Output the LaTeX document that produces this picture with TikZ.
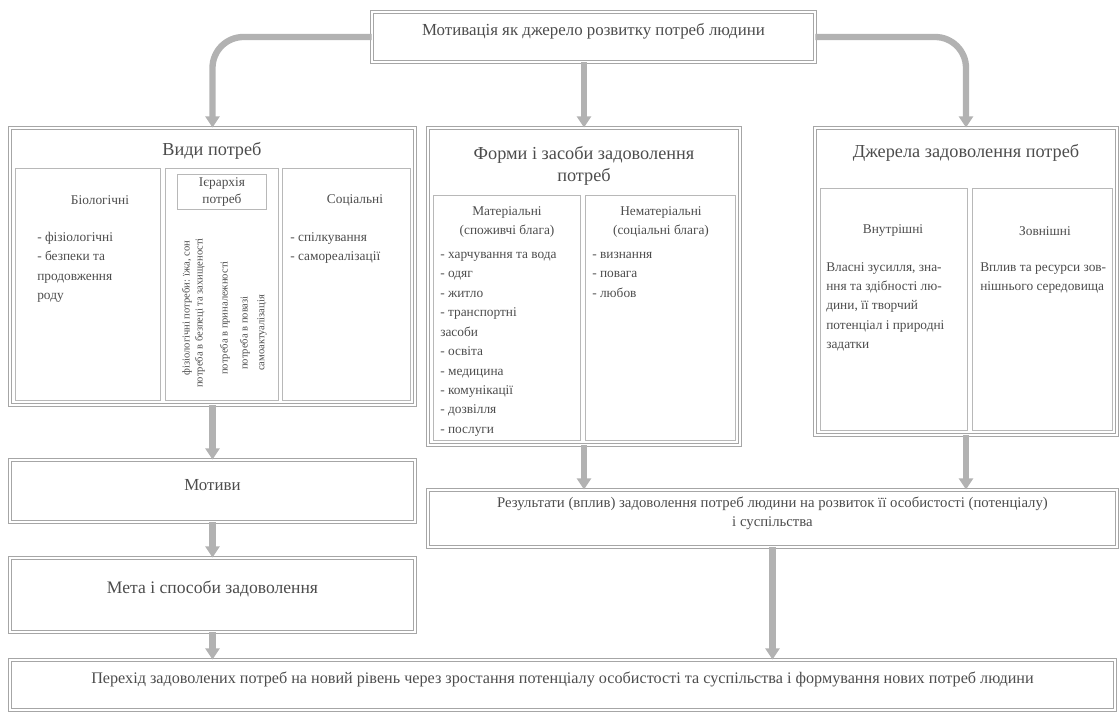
\documentclass[tikz,border=0pt]{standalone}
\usepackage{fontspec}
\setmainfont{Liberation Serif}
\usetikzlibrary{arrows.meta, positioning, fit}

\begin{document}
\begin{tikzpicture}[
    x=0.025cm, y=-0.025cm,
    box/.style={rectangle, draw=black!35, line width=0.7pt, double, double distance=1.4pt,
                inner sep=0pt, align=center, text=black!70,
                font=\fontsize{12}{15}\selectfont},
    col/.style={rectangle, draw=black!28, line width=0.7pt, inner sep=0pt},
    head/.style={align=center, text=black!70, font=\fontsize{13}{16}\selectfont},
    subhead/.style={align=center, text=black!70, font=\fontsize{9.5}{13.5}\selectfont},
    items/.style={align=left, anchor=north west, inner sep=0pt, text=black!70,
                  font=\fontsize{9.5}{13.8}\selectfont},
    vert/.style={rotate=90, inner sep=0pt, text=black!70,
                 font=\fontsize{7.5}{8}\selectfont},
    arrow/.style={-{Triangle[length=8pt, width=10pt]}, line width=4.5pt, draw=black!30},
]
\useasboundingbox (0,0) rectangle (1120,715);

% Top
\node[box, fit={(372,12) (815,62)}] (motiv) {Мотивація як джерело розвитку потреб людини};

% Types of needs
\node[box, fit={(10,128) (415,405)}] (types) {};
\node[head] (typesT) at (212,151) {Види потреб};
\node[col, fit={(15,168) (160,400)}] (biocol) {};
\node[col, fit={(165,168) (278,400)}] (hiercol) {};
\node[col, fit={(282,168) (410,400)}] (soccol) {};
\node[subhead] (bioT) at (100,200) {Біологічні};
\node[items] (bioL) at (37,232) {- фізіологічні\\- безпеки та\\продовження\\роду};
\node[col, subhead, inner sep=2pt, minimum width=2.2cm, minimum height=0.85cm,
      font=\fontsize{9.5}{12}\selectfont] (hierT) at (222,192) {Ієрархія\\потреб};
\node[vert] (v1) at (187,308) {фізіологічні потреби: їжа, сон};
\node[vert] (v2) at (200,313) {потреба в безпеці та захищеності};
\node[vert] (v3) at (225,318) {потреба в приналежності};
\node[vert] (v4) at (245,333) {потреба в повазі};
\node[vert] (v5) at (262,333) {самоактуалізація};
\node[subhead] (socT) at (355,200) {Соціальні};
\node[items] (socL) at (290,232) {- спілкування\\- самореалізації};

% Forms and means
\node[box, fit={(428,128) (740,445)}] (forms) {};
\node[head] (formsT) at (584,166) {Форми і засоби задоволення\\потреб};
\node[col, fit={(433,195) (580,440)}] (matcol) {};
\node[col, fit={(585,195) (735,440)}] (nmatcol) {};
\node[subhead] (matT) at (507,222) {Матеріальні\\(споживчі блага)};
\node[items] (matL) at (440,252) {- харчування та вода\\- одяг\\- житло\\- транспортні\\засоби\\- освіта\\- медицина\\- комунікації\\- дозвілля\\- послуги};
\node[subhead] (nmatT) at (661,222) {Нематеріальні\\(соціальні блага)};
\node[items] (nmatL) at (592,252) {- визнання\\- повага\\- любов};

% Sources
\node[box, fit={(815,128) (1117,435)}] (sources) {};
\node[head] (sourcesT) at (966,153) {Джерела задоволення потреб};
\node[col, fit={(820,188) (967,430)}] (incol) {};
\node[col, fit={(972,188) (1112,430)}] (outcol) {};
\node[subhead] (inT) at (893,231) {Внутрішні};
\node[subhead] (outT) at (1045,231) {Зовнішні};
\node[items] (inL) at (826,262) {Власні зусилля, зна-\\ння та здібності лю-\\дини, її творчий\\потенціал і природні\\задатки};
\node[items] (outL) at (980,262) {Вплив та ресурси зов-\\нішнього середовища};

% Lower boxes
\node[box, fit={(10,460) (415,522)}] (motives) {Мотиви};
\node[box, fit={(10,558) (415,632)}, font=\fontsize{12.5}{15}\selectfont] (goals) {Мета і способи задоволення};
\node[box, fit={(428,490) (1117,547)}, font=\fontsize{10.5}{14}\selectfont] (results) {Результати (вплив) задоволення потреб людини на розвиток її особистості (потенціалу)\\і суспільства};
\node[box, fit={(10,660) (1115,710)}, font=\fontsize{11.5}{14}\selectfont] (final) {Перехід задоволених потреб на новий рівень через зростання потенціалу особистості та суспільства і формування нових потреб людини};

% Arrows
\draw[arrow, rounded corners=22pt] (motiv.west) -| (types.north);
\draw[arrow] (forms.north |- motiv.south) -- (forms.north);
\draw[arrow, rounded corners=22pt] (motiv.east) -| (sources.north);
\draw[arrow] (types.south) -- (motives.north);
\draw[arrow] (motives.south) -- (goals.north);
\draw[arrow] (goals.south) -- (goals.south |- final.north);
\draw[arrow] (forms.south) -- (forms.south |- results.north);
\draw[arrow] (sources.south) -- (sources.south |- results.north);
\draw[arrow] (results.south) -- (results.south |- final.north);

\end{tikzpicture}
\end{document}
